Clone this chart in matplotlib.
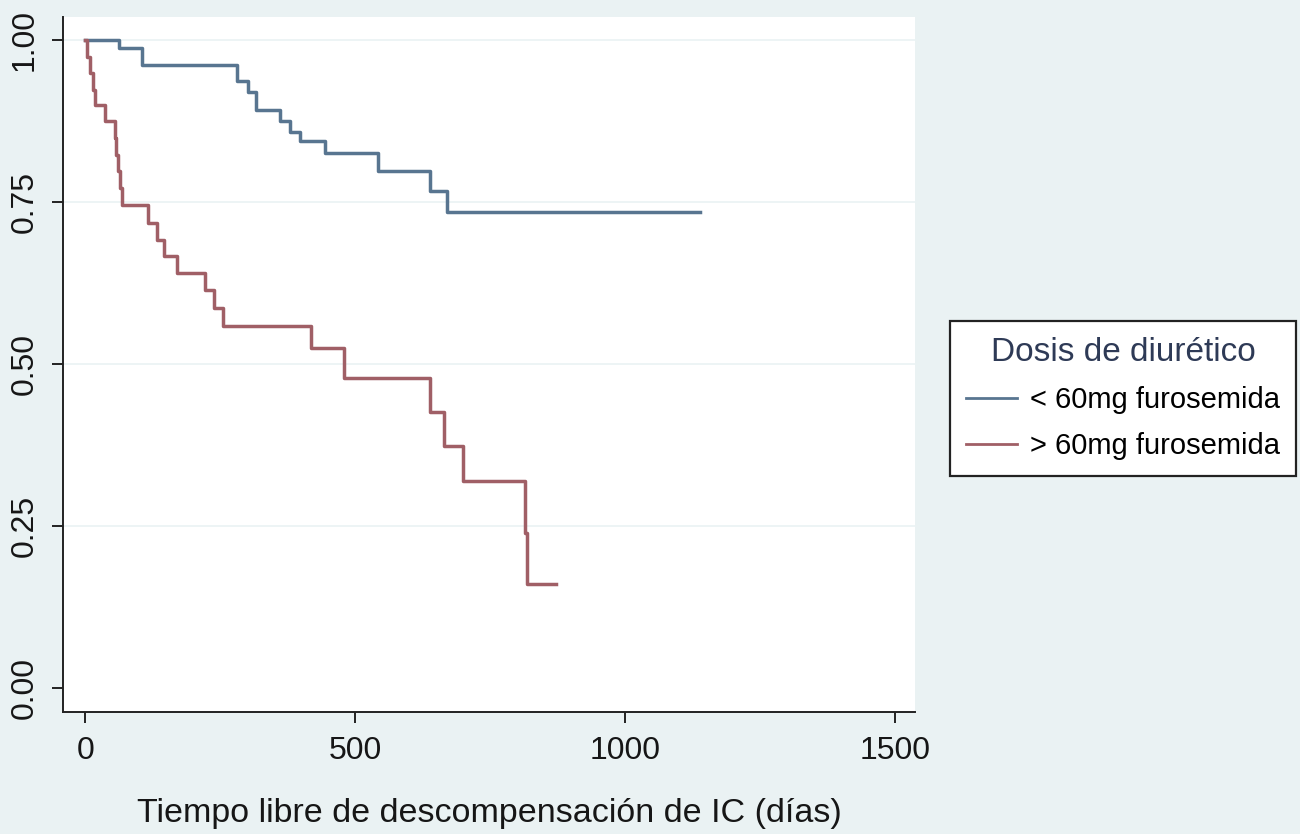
import matplotlib
matplotlib.use("Agg")
import numpy as np
from matplotlib import pyplot as plt

# Kaplan-Meier steps (days, survival)
t_low = [0, 63, 105, 281, 302, 317, 361, 380, 398, 444, 543, 639, 670, 1139]
s_low = [1.0, 0.987, 0.961, 0.936, 0.920, 0.892, 0.874, 0.858, 0.843, 0.825, 0.797, 0.766, 0.734, 0.734]

t_high = [0, 3, 9, 14, 18, 37, 55, 58, 61, 64, 68, 117, 133, 146, 170, 222, 238, 256,
          418, 480, 639, 664, 699, 815, 819, 872]
s_high = [1.0, 0.974, 0.949, 0.923, 0.900, 0.874, 0.848, 0.822, 0.797, 0.771, 0.745, 0.717,
          0.691, 0.666, 0.640, 0.614, 0.586, 0.559, 0.524, 0.478, 0.425, 0.373, 0.319,
          0.239, 0.160, 0.160]

labels = ["< 60mg furosemida", "> 60mg furosemida"]
xticks = [0, 500, 1000, 1500]
yticks = [0.0, 0.25, 0.5, 0.75, 1.0]

bg = "#eaf2f3"
blue = "#587590"
red = "#a05f66"

plt.rcParams['font.family'] = ['Liberation Sans', 'DejaVu Sans']

fig = plt.figure(figsize=(13, 8.34), dpi=100, facecolor=bg)
ax = fig.add_axes([63/1300, 1 - 712/834, (915 - 63)/1300, (712 - 17)/834])
ax.set_facecolor("white")

for y in yticks[1:]:
    ax.axhline(y, color=bg, lw=1.2, zorder=0)

ax.plot(t_low, s_low, drawstyle="steps-post", color=blue, lw=2.5, label=labels[0])
ax.plot(t_high, s_high, drawstyle="steps-post", color=red, lw=2.5, label=labels[1])

ax.set_xlim(-41, 1537)
ax.set_ylim(-0.037, 1.035)
ax.set_xticks(xticks)
ax.set_xticklabels([str(x) for x in xticks])
ax.set_yticks(yticks)
ax.set_yticklabels(["%.2f" % y for y in yticks], rotation=90, va="center")

for side in ["top", "right"]:
    ax.spines[side].set_visible(False)
for side in ["left", "bottom"]:
    ax.spines[side].set_color("#222222")
    ax.spines[side].set_linewidth(1.4)

ax.tick_params(axis="both", direction="out", length=8, width=1.4, color="#222222",
               labelsize=23, labelcolor="#161616")
ax.tick_params(axis="x", pad=9)
ax.tick_params(axis="y", pad=9)

ax.set_xlabel("Tiempo libre de descompensación de IC (días)", fontsize=24.5,
              color="#161616", labelpad=23)

leg = fig.legend(loc="upper left", bbox_to_anchor=(950/1300, 1 - 321/834),
                 title="Dosis de diurético", fontsize=21, title_fontsize=24,
                 frameon=True, fancybox=False, edgecolor="#222222", facecolor="white",
                 framealpha=1, handlelength=1.75, handletextpad=0.45, borderpad=0.55,
                 labelspacing=0.62, borderaxespad=0)
leg.get_frame().set_linewidth(1.6)
leg.get_title().set_color("#2e3a56")
for line in leg.get_lines():
    line.set_linewidth(2.0)

fig.savefig("out.png", dpi=100, facecolor=bg)
